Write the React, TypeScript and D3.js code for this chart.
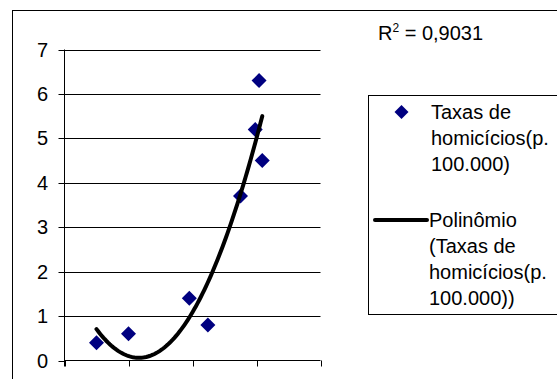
import React from "react";
import * as d3 from "d3";

// Data
const xValues = [0.5, 1.0, 1.95, 2.24, 2.75, 2.98, 3.04, 3.09];
const rates = [0.4, 0.6, 1.4, 0.8, 3.7, 5.2, 6.3, 4.5];
const yTicks = [0, 1, 2, 3, 4, 5, 6, 7];
const xTicks = [0, 1, 2, 3, 4];
const r2Label = "0,9031";
const legendSeries = ["Taxas de", "homicícios(p.", "100.000)"];
const legendTrend = ["Polinômio", "(Taxas de", "homicícios(p.", "100.000))"];

// least-squares quadratic fit (the trendline)
function polyfit(xs: number[], ys: number[], deg: number): number[] {
  const n = deg + 1;
  const A: number[][] = [];
  for (let i = 0; i < n; i++) {
    A.push([]);
    for (let j = 0; j < n; j++) {
      A[i].push(d3.sum(xs, (x) => Math.pow(x, i + j)));
    }
    A[i].push(d3.sum(xs, (x, k) => Math.pow(x, i) * ys[k]));
  }
  for (let c = 0; c < n; c++) {
    let p = c;
    for (let r = c + 1; r < n; r++) if (Math.abs(A[r][c]) > Math.abs(A[p][c])) p = r;
    [A[c], A[p]] = [A[p], A[c]];
    for (let r = 0; r < n; r++) {
      if (r === c) continue;
      const f = A[r][c] / A[c][c];
      for (let k = c; k <= n; k++) A[r][k] -= f * A[c][k];
    }
  }
  return A.map((row, i) => row[n] / row[i]);
}

export default function App() {
  const W = 557, H = 379;
  const x = d3.scaleLinear().domain([0, 4]).range([64.5, 320.5]);
  const y = d3.scaleLinear().domain([0, 7]).range([360.5, 49.5]);
  const coef = polyfit(xValues, rates, 2);
  const f = (t: number) => coef.reduce((s, c, i) => s + c * Math.pow(t, i), 0);
  const [x0, x1] = d3.extent(xValues) as [number, number];
  const samples = d3.range(0, 101).map((i) => x0 + ((x1 - x0) * i) / 100);
  const line = d3.line<number>().x((t) => x(t)).y((t) => y(f(t))).curve(d3.curveLinear);
  const diamond = (cx: number, cy: number, r: number) =>
    `M${cx},${cy - r}L${cx + r},${cy}L${cx},${cy + r}L${cx - r},${cy}Z`;
  const font = "'Liberation Sans', Arial, sans-serif";
  const fs = 20;
  const lh = 26;

  return (
    <svg width={W} height={H} style={{ position: "absolute", left: 0, top: 0, background: "#fff" }}
      fontFamily={font}>
      <rect x={12.5} y={10.5} width={W} height={H} fill="#fff" stroke="#000" strokeWidth={1} />
      {/* gridlines */}
      {yTicks.filter((t) => t > 0).map((t) => (
        <line key={t} x1={x(0)} x2={x(4)} y1={Math.round(y(t)) + 0.5} y2={Math.round(y(t)) + 0.5}
          stroke="#000" strokeWidth={1} />
      ))}
      {/* y axis */}
      <line x1={x(0)} x2={x(0)} y1={y(7)} y2={y(0) + 6} stroke="#000" />
      {yTicks.map((t) => (
        <g key={t}>
          <line x1={x(0) - 6} x2={x(0)} y1={Math.round(y(t)) + 0.5} y2={Math.round(y(t)) + 0.5} stroke="#000" />
          <text x={48} y={y(t)} dy="0.35em" textAnchor="end" fontSize={fs} fill="#000">{t}</text>
        </g>
      ))}
      {/* x axis */}
      <line x1={x(0)} x2={x(4)} y1={y(0)} y2={y(0)} stroke="#000" />
      {xTicks.map((t) => (
        <line key={t} x1={Math.round(x(t)) + 0.5} x2={Math.round(x(t)) + 0.5} y1={y(0)} y2={y(0) + 6} stroke="#000" />
      ))}
      {/* points */}
      {xValues.map((v, i) => (
        <path key={i} d={diamond(x(v), y(rates[i]), 7.5)} fill="#000080" />
      ))}
      {/* trendline */}
      <path d={line(samples) || ""} fill="none" stroke="#000" strokeWidth={4} strokeLinecap="round" />
      {/* R2 */}
      <text x={378} y={39.5} fontSize={fs} fill="#000">
        R<tspan fontSize={12} dy={-8}>2</tspan><tspan dy={8}>{" = " + r2Label}</tspan>
      </text>
      {/* legend */}
      <rect x={368.5} y={95.5} width={W} height={219} fill="#fff" stroke="#000" />
      <path d={diamond(401.5, 112, 7)} fill="#000080" />
      {legendSeries.map((s, i) => (
        <text key={i} x={431} y={119 + i * lh} fontSize={fs} fill="#000">{s}</text>
      ))}
      <line x1={375} x2={427} y1={220} y2={220} stroke="#000" strokeWidth={4} strokeLinecap="round" />
      {legendTrend.map((s, i) => (
        <text key={i} x={429} y={227 + i * lh} fontSize={fs} fill="#000">{s}</text>
      ))}
    </svg>
  );
}
